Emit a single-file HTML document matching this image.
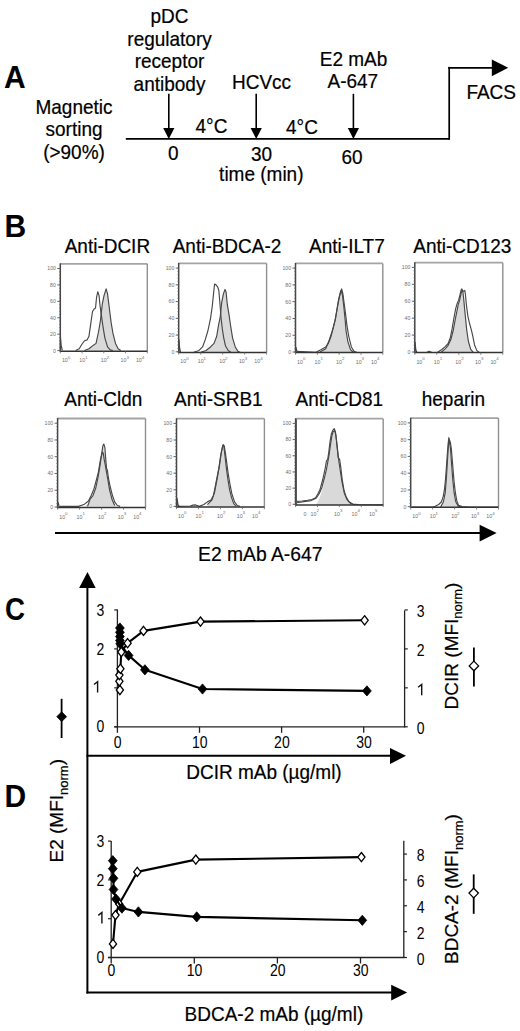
<!DOCTYPE html>
<html><head><meta charset="utf-8"><style>
html,body{margin:0;padding:0;background:#fff;}
body{width:520px;height:1031px;overflow:hidden;}
svg{display:block;font-family:"Liberation Sans", sans-serif;}
</style></head><body>
<svg width="520" height="1031" viewBox="0 0 520 1031">
<rect x="0" y="0" width="520" height="1031" fill="#fff"/>
<text transform="translate(4.00,88.00) scale(1,1.03)" font-size="30" text-anchor="start" font-weight="bold" fill="#000">A</text>
<text transform="translate(169.50,23.00) scale(1,1.03)" font-size="19" text-anchor="middle" font-weight="normal" fill="#000" stroke="#000" stroke-width="0.2">pDC</text>
<text transform="translate(169.50,45.60) scale(1,1.03)" font-size="19" text-anchor="middle" font-weight="normal" fill="#000" stroke="#000" stroke-width="0.2">regulatory</text>
<text transform="translate(169.50,68.20) scale(1,1.03)" font-size="19" text-anchor="middle" font-weight="normal" fill="#000" stroke="#000" stroke-width="0.2">receptor</text>
<text transform="translate(169.50,90.80) scale(1,1.03)" font-size="19" text-anchor="middle" font-weight="normal" fill="#000" stroke="#000" stroke-width="0.2">antibody</text>
<text transform="translate(74.00,113.80) scale(1,1.03)" font-size="19" text-anchor="middle" font-weight="normal" fill="#000" stroke="#000" stroke-width="0.2">Magnetic</text>
<text transform="translate(74.00,136.10) scale(1,1.03)" font-size="19" text-anchor="middle" font-weight="normal" fill="#000" stroke="#000" stroke-width="0.2">sorting</text>
<text transform="translate(74.00,159.40) scale(1,1.03)" font-size="19" text-anchor="middle" font-weight="normal" fill="#000" stroke="#000" stroke-width="0.2">(&gt;90%)</text>
<text transform="translate(261.50,88.60) scale(1,1.03)" font-size="19" text-anchor="middle" font-weight="normal" fill="#000" stroke="#000" stroke-width="0.2">HCVcc</text>
<text transform="translate(353.50,65.60) scale(1,1.03)" font-size="19" text-anchor="middle" font-weight="normal" fill="#000" stroke="#000" stroke-width="0.2">E2 mAb</text>
<text transform="translate(352.80,88.30) scale(1,1.03)" font-size="19" text-anchor="middle" font-weight="normal" fill="#000" stroke="#000" stroke-width="0.2">A-647</text>
<text transform="translate(211.50,133.20) scale(1,1.03)" font-size="19" text-anchor="middle" font-weight="normal" fill="#000" stroke="#000" stroke-width="0.2">4°C</text>
<text transform="translate(302.00,133.80) scale(1,1.03)" font-size="19" text-anchor="middle" font-weight="normal" fill="#000" stroke="#000" stroke-width="0.2">4°C</text>
<text transform="translate(173.20,160.40) scale(1,1.03)" font-size="19" text-anchor="middle" font-weight="normal" fill="#000" stroke="#000" stroke-width="0.2">0</text>
<text transform="translate(261.60,161.00) scale(1,1.03)" font-size="19" text-anchor="middle" font-weight="normal" fill="#000" stroke="#000" stroke-width="0.2">30</text>
<text transform="translate(352.10,163.90) scale(1,1.03)" font-size="19" text-anchor="middle" font-weight="normal" fill="#000" stroke="#000" stroke-width="0.2">60</text>
<text transform="translate(261.30,181.40) scale(1,1.03)" font-size="19" text-anchor="middle" font-weight="normal" fill="#000" stroke="#000" stroke-width="0.2">time (min)</text>
<text transform="translate(491.20,98.80) scale(1,1.03)" font-size="19" text-anchor="middle" font-weight="normal" fill="#000" stroke="#000" stroke-width="0.2">FACS</text>
<line x1="125.80" y1="138.90" x2="449.60" y2="138.90" stroke="#000" stroke-width="1.9"/>
<line x1="168.80" y1="93.80" x2="168.80" y2="129.00" stroke="#000" stroke-width="1.6"/>
<polygon points="163.20,127.90 174.40,127.90 168.80,138.90" fill="#000" stroke="none" stroke-width="0"/>
<line x1="256.20" y1="93.80" x2="256.20" y2="129.00" stroke="#000" stroke-width="1.6"/>
<polygon points="250.60,127.90 261.80,127.90 256.20,138.90" fill="#000" stroke="none" stroke-width="0"/>
<line x1="353.40" y1="93.80" x2="353.40" y2="129.00" stroke="#000" stroke-width="1.6"/>
<polygon points="347.80,127.90 359.00,127.90 353.40,138.90" fill="#000" stroke="none" stroke-width="0"/>
<line x1="449.20" y1="139.80" x2="449.20" y2="66.90" stroke="#000" stroke-width="1.7"/>
<line x1="448.20" y1="67.80" x2="493.00" y2="67.80" stroke="#000" stroke-width="1.7"/>
<polygon points="491.80,59.60 508.20,67.80 491.80,76.20" fill="#000" stroke="none" stroke-width="0"/>
<text transform="translate(4.50,236.90) scale(1,1.03)" font-size="30" text-anchor="start" font-weight="bold" fill="#000">B</text>
<text transform="translate(107.40,253.00) scale(1,1.03)" font-size="19" text-anchor="middle" font-weight="normal" fill="#000" stroke="#000" stroke-width="0.2">Anti-DCIR</text>
<text transform="translate(227.00,253.00) scale(1,1.03)" font-size="19" text-anchor="middle" font-weight="normal" fill="#000" stroke="#000" stroke-width="0.2">Anti-BDCA-2</text>
<text transform="translate(346.90,253.00) scale(1,1.03)" font-size="19" text-anchor="middle" font-weight="normal" fill="#000" stroke="#000" stroke-width="0.2">Anti-ILT7</text>
<text transform="translate(462.30,253.00) scale(1,1.03)" font-size="19" text-anchor="middle" font-weight="normal" fill="#000" stroke="#000" stroke-width="0.2">Anti-CD123</text>
<text transform="translate(103.30,405.80) scale(1,1.03)" font-size="19" text-anchor="middle" font-weight="normal" fill="#000" stroke="#000" stroke-width="0.2">Anti-Cldn</text>
<text transform="translate(218.30,405.80) scale(1,1.03)" font-size="19" text-anchor="middle" font-weight="normal" fill="#000" stroke="#000" stroke-width="0.2">Anti-SRB1</text>
<text transform="translate(339.40,405.80) scale(1,1.03)" font-size="19" text-anchor="middle" font-weight="normal" fill="#000" stroke="#000" stroke-width="0.2">Anti-CD81</text>
<text transform="translate(453.40,405.80) scale(1,1.03)" font-size="19" text-anchor="middle" font-weight="normal" fill="#000" stroke="#000" stroke-width="0.2">heparin</text>
<g transform="translate(58,262) scale(0.17693)">
<path d="M150,500 L175,490 L200,470 L215,460 L230,390 L240,330 L250,240 L260,190 L272,152 L280,180 L290,260 L300,340 L310,400 L325,460 L340,490 L355,500 Z" fill="#d9d9d9" stroke="none"/>
<path d="M100,500 L120,490 L135,465 L150,445 L165,440 L175,420 L185,350 L195,280 L205,265 L212,260 L218,200 L225,168 L232,190 L238,250 L245,300 L255,370 L265,430 L280,480 L295,497 L310,500" fill="none" stroke="#474747" stroke-width="1.15" vector-effect="non-scaling-stroke" stroke-linejoin="round"/>
<path d="M150,500 L175,490 L200,470 L215,460 L230,390 L240,330 L250,240 L260,190 L272,152 L280,180 L290,260 L300,340 L310,400 L325,460 L340,490 L355,500" fill="none" stroke="#474747" stroke-width="1.15" vector-effect="non-scaling-stroke" stroke-linejoin="round"/>
<path d="M14,500 L14,425 L18,470 L24,500" fill="none" stroke="#474747" stroke-width="1.15" vector-effect="non-scaling-stroke" stroke-linejoin="round"/>
</g>
<line x1="60.30" y1="263.80" x2="147.30" y2="263.80" stroke="#a4a4a4" stroke-width="1.8"/>
<line x1="147.30" y1="263.80" x2="147.30" y2="351.20" stroke="#909090" stroke-width="1.4"/>
<line x1="60.30" y1="351.20" x2="147.30" y2="351.20" stroke="#333" stroke-width="1.5"/>
<line x1="60.30" y1="263.30" x2="60.30" y2="351.90" stroke="#444" stroke-width="1.5"/>
<line x1="57.30" y1="350.60" x2="60.30" y2="350.60" stroke="#555" stroke-width="0.9"/>
<text transform="translate(55.90,352.50) scale(1,1.0)" font-size="5.2" text-anchor="end" font-weight="normal" fill="#707070">0</text>
<line x1="57.30" y1="334.18" x2="60.30" y2="334.18" stroke="#555" stroke-width="0.9"/>
<text transform="translate(55.90,336.08) scale(1,1.0)" font-size="5.2" text-anchor="end" font-weight="normal" fill="#707070">20</text>
<line x1="57.30" y1="317.76" x2="60.30" y2="317.76" stroke="#555" stroke-width="0.9"/>
<text transform="translate(55.90,319.66) scale(1,1.0)" font-size="5.2" text-anchor="end" font-weight="normal" fill="#707070">40</text>
<line x1="57.30" y1="301.34" x2="60.30" y2="301.34" stroke="#555" stroke-width="0.9"/>
<text transform="translate(55.90,303.24) scale(1,1.0)" font-size="5.2" text-anchor="end" font-weight="normal" fill="#707070">60</text>
<line x1="57.30" y1="284.92" x2="60.30" y2="284.92" stroke="#555" stroke-width="0.9"/>
<text transform="translate(55.90,286.82) scale(1,1.0)" font-size="5.2" text-anchor="end" font-weight="normal" fill="#707070">80</text>
<line x1="57.30" y1="268.50" x2="60.30" y2="268.50" stroke="#555" stroke-width="0.9"/>
<text transform="translate(55.90,270.40) scale(1,1.0)" font-size="5.2" text-anchor="end" font-weight="normal" fill="#707070">100</text>
<line x1="59.00" y1="350.60" x2="60.30" y2="350.60" stroke="#666" stroke-width="0.7"/>
<line x1="59.00" y1="347.32" x2="60.30" y2="347.32" stroke="#666" stroke-width="0.7"/>
<line x1="59.00" y1="344.03" x2="60.30" y2="344.03" stroke="#666" stroke-width="0.7"/>
<line x1="59.00" y1="340.75" x2="60.30" y2="340.75" stroke="#666" stroke-width="0.7"/>
<line x1="59.00" y1="337.46" x2="60.30" y2="337.46" stroke="#666" stroke-width="0.7"/>
<line x1="59.00" y1="334.18" x2="60.30" y2="334.18" stroke="#666" stroke-width="0.7"/>
<line x1="59.00" y1="330.90" x2="60.30" y2="330.90" stroke="#666" stroke-width="0.7"/>
<line x1="59.00" y1="327.61" x2="60.30" y2="327.61" stroke="#666" stroke-width="0.7"/>
<line x1="59.00" y1="324.33" x2="60.30" y2="324.33" stroke="#666" stroke-width="0.7"/>
<line x1="59.00" y1="321.04" x2="60.30" y2="321.04" stroke="#666" stroke-width="0.7"/>
<line x1="59.00" y1="317.76" x2="60.30" y2="317.76" stroke="#666" stroke-width="0.7"/>
<line x1="59.00" y1="314.48" x2="60.30" y2="314.48" stroke="#666" stroke-width="0.7"/>
<line x1="59.00" y1="311.19" x2="60.30" y2="311.19" stroke="#666" stroke-width="0.7"/>
<line x1="59.00" y1="307.91" x2="60.30" y2="307.91" stroke="#666" stroke-width="0.7"/>
<line x1="59.00" y1="304.62" x2="60.30" y2="304.62" stroke="#666" stroke-width="0.7"/>
<line x1="59.00" y1="301.34" x2="60.30" y2="301.34" stroke="#666" stroke-width="0.7"/>
<line x1="59.00" y1="298.06" x2="60.30" y2="298.06" stroke="#666" stroke-width="0.7"/>
<line x1="59.00" y1="294.77" x2="60.30" y2="294.77" stroke="#666" stroke-width="0.7"/>
<line x1="59.00" y1="291.49" x2="60.30" y2="291.49" stroke="#666" stroke-width="0.7"/>
<line x1="59.00" y1="288.20" x2="60.30" y2="288.20" stroke="#666" stroke-width="0.7"/>
<line x1="59.00" y1="284.92" x2="60.30" y2="284.92" stroke="#666" stroke-width="0.7"/>
<line x1="59.00" y1="281.64" x2="60.30" y2="281.64" stroke="#666" stroke-width="0.7"/>
<line x1="59.00" y1="278.35" x2="60.30" y2="278.35" stroke="#666" stroke-width="0.7"/>
<line x1="59.00" y1="275.07" x2="60.30" y2="275.07" stroke="#666" stroke-width="0.7"/>
<line x1="59.00" y1="271.78" x2="60.30" y2="271.78" stroke="#666" stroke-width="0.7"/>
<line x1="59.00" y1="268.50" x2="60.30" y2="268.50" stroke="#666" stroke-width="0.7"/>
<text x="61.90" y="362.20" font-size="5.3" fill="#707070">10<tspan dy="-3.6" font-size="4.4">0</tspan></text>
<text x="79.30" y="362.20" font-size="5.3" fill="#707070">10<tspan dy="-3.6" font-size="4.4">1</tspan></text>
<text x="100.80" y="362.20" font-size="5.3" fill="#707070">10<tspan dy="-3.6" font-size="4.4">2</tspan></text>
<text x="120.50" y="362.20" font-size="5.3" fill="#707070">10<tspan dy="-3.6" font-size="4.4">3</tspan></text>
<text x="135.90" y="362.20" font-size="5.3" fill="#707070">10<tspan dy="-3.6" font-size="4.4">4</tspan></text>
<line x1="60.30" y1="351.20" x2="60.30" y2="353.40" stroke="#666" stroke-width="0.8"/>
<line x1="82.05" y1="351.20" x2="82.05" y2="353.40" stroke="#666" stroke-width="0.8"/>
<line x1="103.80" y1="351.20" x2="103.80" y2="353.40" stroke="#666" stroke-width="0.8"/>
<line x1="125.55" y1="351.20" x2="125.55" y2="353.40" stroke="#666" stroke-width="0.8"/>
<line x1="147.30" y1="351.20" x2="147.30" y2="353.40" stroke="#666" stroke-width="0.8"/>
<g transform="translate(176,262) scale(0.17693)">
<path d="M140,510 L170,500 L195,480 L215,460 L230,420 L240,360 L250,310 L258,230 L268,180 L277,155 L283,170 L290,240 L300,300 L310,370 L320,430 L335,480 L350,505 L365,512 Z" fill="#d9d9d9" stroke="none"/>
<path d="M100,510 L130,500 L150,480 L165,440 L180,390 L195,320 L205,250 L212,180 L218,125 L225,128 L235,140 L242,160 L248,230 L255,320 L262,380 L270,430 L280,475 L295,500 L310,510" fill="none" stroke="#474747" stroke-width="1.15" vector-effect="non-scaling-stroke" stroke-linejoin="round"/>
<path d="M140,510 L170,500 L195,480 L215,460 L230,420 L240,360 L250,310 L258,230 L268,180 L277,155 L283,170 L290,240 L300,300 L310,370 L320,430 L335,480 L350,505 L365,512" fill="none" stroke="#474747" stroke-width="1.15" vector-effect="non-scaling-stroke" stroke-linejoin="round"/>
<path d="M16,512 L17,440 L21,490 L27,512" fill="none" stroke="#474747" stroke-width="1.15" vector-effect="non-scaling-stroke" stroke-linejoin="round"/>
</g>
<line x1="178.70" y1="263.40" x2="266.60" y2="263.40" stroke="#a4a4a4" stroke-width="1.8"/>
<line x1="266.60" y1="263.40" x2="266.60" y2="352.40" stroke="#909090" stroke-width="1.4"/>
<line x1="178.70" y1="352.40" x2="266.60" y2="352.40" stroke="#333" stroke-width="1.5"/>
<line x1="178.70" y1="262.90" x2="178.70" y2="353.10" stroke="#444" stroke-width="1.5"/>
<line x1="175.70" y1="351.80" x2="178.70" y2="351.80" stroke="#555" stroke-width="0.9"/>
<text transform="translate(174.30,353.70) scale(1,1.0)" font-size="5.2" text-anchor="end" font-weight="normal" fill="#707070">0</text>
<line x1="175.70" y1="335.06" x2="178.70" y2="335.06" stroke="#555" stroke-width="0.9"/>
<text transform="translate(174.30,336.96) scale(1,1.0)" font-size="5.2" text-anchor="end" font-weight="normal" fill="#707070">20</text>
<line x1="175.70" y1="318.32" x2="178.70" y2="318.32" stroke="#555" stroke-width="0.9"/>
<text transform="translate(174.30,320.22) scale(1,1.0)" font-size="5.2" text-anchor="end" font-weight="normal" fill="#707070">40</text>
<line x1="175.70" y1="301.58" x2="178.70" y2="301.58" stroke="#555" stroke-width="0.9"/>
<text transform="translate(174.30,303.48) scale(1,1.0)" font-size="5.2" text-anchor="end" font-weight="normal" fill="#707070">60</text>
<line x1="175.70" y1="284.84" x2="178.70" y2="284.84" stroke="#555" stroke-width="0.9"/>
<text transform="translate(174.30,286.74) scale(1,1.0)" font-size="5.2" text-anchor="end" font-weight="normal" fill="#707070">80</text>
<line x1="175.70" y1="268.10" x2="178.70" y2="268.10" stroke="#555" stroke-width="0.9"/>
<text transform="translate(174.30,270.00) scale(1,1.0)" font-size="5.2" text-anchor="end" font-weight="normal" fill="#707070">100</text>
<line x1="177.40" y1="351.80" x2="178.70" y2="351.80" stroke="#666" stroke-width="0.7"/>
<line x1="177.40" y1="348.45" x2="178.70" y2="348.45" stroke="#666" stroke-width="0.7"/>
<line x1="177.40" y1="345.10" x2="178.70" y2="345.10" stroke="#666" stroke-width="0.7"/>
<line x1="177.40" y1="341.76" x2="178.70" y2="341.76" stroke="#666" stroke-width="0.7"/>
<line x1="177.40" y1="338.41" x2="178.70" y2="338.41" stroke="#666" stroke-width="0.7"/>
<line x1="177.40" y1="335.06" x2="178.70" y2="335.06" stroke="#666" stroke-width="0.7"/>
<line x1="177.40" y1="331.71" x2="178.70" y2="331.71" stroke="#666" stroke-width="0.7"/>
<line x1="177.40" y1="328.36" x2="178.70" y2="328.36" stroke="#666" stroke-width="0.7"/>
<line x1="177.40" y1="325.02" x2="178.70" y2="325.02" stroke="#666" stroke-width="0.7"/>
<line x1="177.40" y1="321.67" x2="178.70" y2="321.67" stroke="#666" stroke-width="0.7"/>
<line x1="177.40" y1="318.32" x2="178.70" y2="318.32" stroke="#666" stroke-width="0.7"/>
<line x1="177.40" y1="314.97" x2="178.70" y2="314.97" stroke="#666" stroke-width="0.7"/>
<line x1="177.40" y1="311.62" x2="178.70" y2="311.62" stroke="#666" stroke-width="0.7"/>
<line x1="177.40" y1="308.28" x2="178.70" y2="308.28" stroke="#666" stroke-width="0.7"/>
<line x1="177.40" y1="304.93" x2="178.70" y2="304.93" stroke="#666" stroke-width="0.7"/>
<line x1="177.40" y1="301.58" x2="178.70" y2="301.58" stroke="#666" stroke-width="0.7"/>
<line x1="177.40" y1="298.23" x2="178.70" y2="298.23" stroke="#666" stroke-width="0.7"/>
<line x1="177.40" y1="294.88" x2="178.70" y2="294.88" stroke="#666" stroke-width="0.7"/>
<line x1="177.40" y1="291.54" x2="178.70" y2="291.54" stroke="#666" stroke-width="0.7"/>
<line x1="177.40" y1="288.19" x2="178.70" y2="288.19" stroke="#666" stroke-width="0.7"/>
<line x1="177.40" y1="284.84" x2="178.70" y2="284.84" stroke="#666" stroke-width="0.7"/>
<line x1="177.40" y1="281.49" x2="178.70" y2="281.49" stroke="#666" stroke-width="0.7"/>
<line x1="177.40" y1="278.14" x2="178.70" y2="278.14" stroke="#666" stroke-width="0.7"/>
<line x1="177.40" y1="274.80" x2="178.70" y2="274.80" stroke="#666" stroke-width="0.7"/>
<line x1="177.40" y1="271.45" x2="178.70" y2="271.45" stroke="#666" stroke-width="0.7"/>
<line x1="177.40" y1="268.10" x2="178.70" y2="268.10" stroke="#666" stroke-width="0.7"/>
<text x="180.30" y="363.40" font-size="5.3" fill="#707070">10<tspan dy="-3.6" font-size="4.4">0</tspan></text>
<text x="197.70" y="363.40" font-size="5.3" fill="#707070">10<tspan dy="-3.6" font-size="4.4">1</tspan></text>
<text x="219.20" y="363.40" font-size="5.3" fill="#707070">10<tspan dy="-3.6" font-size="4.4">2</tspan></text>
<text x="238.90" y="363.40" font-size="5.3" fill="#707070">10<tspan dy="-3.6" font-size="4.4">3</tspan></text>
<text x="254.30" y="363.40" font-size="5.3" fill="#707070">10<tspan dy="-3.6" font-size="4.4">4</tspan></text>
<line x1="178.70" y1="352.40" x2="178.70" y2="354.60" stroke="#666" stroke-width="0.8"/>
<line x1="200.68" y1="352.40" x2="200.68" y2="354.60" stroke="#666" stroke-width="0.8"/>
<line x1="222.65" y1="352.40" x2="222.65" y2="354.60" stroke="#666" stroke-width="0.8"/>
<line x1="244.62" y1="352.40" x2="244.62" y2="354.60" stroke="#666" stroke-width="0.8"/>
<line x1="266.60" y1="352.40" x2="266.60" y2="354.60" stroke="#666" stroke-width="0.8"/>
<g transform="translate(293,262) scale(0.17693)">
<path d="M150,510 L185,490 L205,440 L225,380 L240,320 L252,250 L262,200 L272,160 L280,190 L288,260 L295,330 L300,390 L310,450 L325,495 L340,510 Z" fill="#d9d9d9" stroke="none"/>
<path d="M20,505 L130,510 L160,495 L185,480 L200,460 L215,420 L228,370 L238,330 L248,270 L258,210 L268,170 L275,152 L282,180 L290,240 L298,300 L305,360 L315,420 L330,480 L345,505 L360,510" fill="none" stroke="#474747" stroke-width="1.15" vector-effect="non-scaling-stroke" stroke-linejoin="round"/>
<path d="M150,510 L185,490 L205,440 L225,380 L240,320 L252,250 L262,200 L272,160 L280,190 L288,260 L295,330 L300,390 L310,450 L325,495 L340,510" fill="none" stroke="#474747" stroke-width="1.15" vector-effect="non-scaling-stroke" stroke-linejoin="round"/>
<path d="M16,512 L17,482 L22,505" fill="none" stroke="#474747" stroke-width="1.15" vector-effect="non-scaling-stroke" stroke-linejoin="round"/>
</g>
<line x1="295.50" y1="263.40" x2="382.80" y2="263.40" stroke="#a4a4a4" stroke-width="1.8"/>
<line x1="382.80" y1="263.40" x2="382.80" y2="352.60" stroke="#909090" stroke-width="1.4"/>
<line x1="295.50" y1="352.60" x2="382.80" y2="352.60" stroke="#333" stroke-width="1.5"/>
<line x1="295.50" y1="262.90" x2="295.50" y2="353.30" stroke="#444" stroke-width="1.5"/>
<line x1="292.50" y1="352.00" x2="295.50" y2="352.00" stroke="#555" stroke-width="0.9"/>
<text transform="translate(291.10,353.90) scale(1,1.0)" font-size="5.2" text-anchor="end" font-weight="normal" fill="#707070">0</text>
<line x1="292.50" y1="335.22" x2="295.50" y2="335.22" stroke="#555" stroke-width="0.9"/>
<text transform="translate(291.10,337.12) scale(1,1.0)" font-size="5.2" text-anchor="end" font-weight="normal" fill="#707070">20</text>
<line x1="292.50" y1="318.44" x2="295.50" y2="318.44" stroke="#555" stroke-width="0.9"/>
<text transform="translate(291.10,320.34) scale(1,1.0)" font-size="5.2" text-anchor="end" font-weight="normal" fill="#707070">40</text>
<line x1="292.50" y1="301.66" x2="295.50" y2="301.66" stroke="#555" stroke-width="0.9"/>
<text transform="translate(291.10,303.56) scale(1,1.0)" font-size="5.2" text-anchor="end" font-weight="normal" fill="#707070">60</text>
<line x1="292.50" y1="284.88" x2="295.50" y2="284.88" stroke="#555" stroke-width="0.9"/>
<text transform="translate(291.10,286.78) scale(1,1.0)" font-size="5.2" text-anchor="end" font-weight="normal" fill="#707070">80</text>
<line x1="292.50" y1="268.10" x2="295.50" y2="268.10" stroke="#555" stroke-width="0.9"/>
<text transform="translate(291.10,270.00) scale(1,1.0)" font-size="5.2" text-anchor="end" font-weight="normal" fill="#707070">100</text>
<line x1="294.20" y1="352.00" x2="295.50" y2="352.00" stroke="#666" stroke-width="0.7"/>
<line x1="294.20" y1="348.64" x2="295.50" y2="348.64" stroke="#666" stroke-width="0.7"/>
<line x1="294.20" y1="345.29" x2="295.50" y2="345.29" stroke="#666" stroke-width="0.7"/>
<line x1="294.20" y1="341.93" x2="295.50" y2="341.93" stroke="#666" stroke-width="0.7"/>
<line x1="294.20" y1="338.58" x2="295.50" y2="338.58" stroke="#666" stroke-width="0.7"/>
<line x1="294.20" y1="335.22" x2="295.50" y2="335.22" stroke="#666" stroke-width="0.7"/>
<line x1="294.20" y1="331.86" x2="295.50" y2="331.86" stroke="#666" stroke-width="0.7"/>
<line x1="294.20" y1="328.51" x2="295.50" y2="328.51" stroke="#666" stroke-width="0.7"/>
<line x1="294.20" y1="325.15" x2="295.50" y2="325.15" stroke="#666" stroke-width="0.7"/>
<line x1="294.20" y1="321.80" x2="295.50" y2="321.80" stroke="#666" stroke-width="0.7"/>
<line x1="294.20" y1="318.44" x2="295.50" y2="318.44" stroke="#666" stroke-width="0.7"/>
<line x1="294.20" y1="315.08" x2="295.50" y2="315.08" stroke="#666" stroke-width="0.7"/>
<line x1="294.20" y1="311.73" x2="295.50" y2="311.73" stroke="#666" stroke-width="0.7"/>
<line x1="294.20" y1="308.37" x2="295.50" y2="308.37" stroke="#666" stroke-width="0.7"/>
<line x1="294.20" y1="305.02" x2="295.50" y2="305.02" stroke="#666" stroke-width="0.7"/>
<line x1="294.20" y1="301.66" x2="295.50" y2="301.66" stroke="#666" stroke-width="0.7"/>
<line x1="294.20" y1="298.30" x2="295.50" y2="298.30" stroke="#666" stroke-width="0.7"/>
<line x1="294.20" y1="294.95" x2="295.50" y2="294.95" stroke="#666" stroke-width="0.7"/>
<line x1="294.20" y1="291.59" x2="295.50" y2="291.59" stroke="#666" stroke-width="0.7"/>
<line x1="294.20" y1="288.24" x2="295.50" y2="288.24" stroke="#666" stroke-width="0.7"/>
<line x1="294.20" y1="284.88" x2="295.50" y2="284.88" stroke="#666" stroke-width="0.7"/>
<line x1="294.20" y1="281.52" x2="295.50" y2="281.52" stroke="#666" stroke-width="0.7"/>
<line x1="294.20" y1="278.17" x2="295.50" y2="278.17" stroke="#666" stroke-width="0.7"/>
<line x1="294.20" y1="274.81" x2="295.50" y2="274.81" stroke="#666" stroke-width="0.7"/>
<line x1="294.20" y1="271.46" x2="295.50" y2="271.46" stroke="#666" stroke-width="0.7"/>
<line x1="294.20" y1="268.10" x2="295.50" y2="268.10" stroke="#666" stroke-width="0.7"/>
<text x="297.10" y="363.60" font-size="5.3" fill="#707070">10<tspan dy="-3.6" font-size="4.4">0</tspan></text>
<text x="314.50" y="363.60" font-size="5.3" fill="#707070">10<tspan dy="-3.6" font-size="4.4">1</tspan></text>
<text x="336.00" y="363.60" font-size="5.3" fill="#707070">10<tspan dy="-3.6" font-size="4.4">2</tspan></text>
<text x="355.70" y="363.60" font-size="5.3" fill="#707070">10<tspan dy="-3.6" font-size="4.4">3</tspan></text>
<text x="371.10" y="363.60" font-size="5.3" fill="#707070">10<tspan dy="-3.6" font-size="4.4">4</tspan></text>
<line x1="295.50" y1="352.60" x2="295.50" y2="354.80" stroke="#666" stroke-width="0.8"/>
<line x1="317.32" y1="352.60" x2="317.32" y2="354.80" stroke="#666" stroke-width="0.8"/>
<line x1="339.15" y1="352.60" x2="339.15" y2="354.80" stroke="#666" stroke-width="0.8"/>
<line x1="360.98" y1="352.60" x2="360.98" y2="354.80" stroke="#666" stroke-width="0.8"/>
<line x1="382.80" y1="352.60" x2="382.80" y2="354.80" stroke="#666" stroke-width="0.8"/>
<g transform="translate(412,260) scale(0.18077)">
<path d="M165,512 L185,490 L200,472 L215,440 L228,390 L238,335 L248,285 L256,245 L263,225 L270,192 L276,168 L281,172 L286,215 L291,270 L297,330 L303,390 L312,450 L325,495 L340,512 Z" fill="#d9d9d9" stroke="none"/>
<path d="M140,512 L165,495 L185,478 L200,462 L212,430 L222,380 L232,320 L242,268 L250,240 L258,222 L265,195 L272,165 L276,160 L281,172 L286,215 L291,270 L297,330 L303,390 L312,450 L325,495 L340,512" fill="none" stroke="#474747" stroke-width="1.15" vector-effect="non-scaling-stroke" stroke-linejoin="round"/>
<path d="M160,512 L185,490 L200,472 L215,440 L228,390 L238,335 L248,285 L256,245 L263,225 L270,192 L276,168 L281,172 L287,172 L292,168 L296,195 L301,250 L309,310 L318,350 L328,385 L336,420 L346,470 L358,500 L372,512" fill="none" stroke="#474747" stroke-width="1.15" vector-effect="non-scaling-stroke" stroke-linejoin="round"/>
<path d="M16,512 L17,455 L21,495 L27,512 M80,512 L95,505 L110,512" fill="none" stroke="#474747" stroke-width="1.15" vector-effect="non-scaling-stroke" stroke-linejoin="round"/>
</g>
<line x1="414.80" y1="262.70" x2="502.80" y2="262.70" stroke="#a4a4a4" stroke-width="1.8"/>
<line x1="502.80" y1="262.70" x2="502.80" y2="352.60" stroke="#909090" stroke-width="1.4"/>
<line x1="414.80" y1="352.60" x2="502.80" y2="352.60" stroke="#333" stroke-width="1.5"/>
<line x1="414.80" y1="262.20" x2="414.80" y2="353.30" stroke="#444" stroke-width="1.5"/>
<line x1="411.80" y1="352.00" x2="414.80" y2="352.00" stroke="#555" stroke-width="0.9"/>
<text transform="translate(410.40,353.90) scale(1,1.0)" font-size="5.2" text-anchor="end" font-weight="normal" fill="#707070">0</text>
<line x1="411.80" y1="335.08" x2="414.80" y2="335.08" stroke="#555" stroke-width="0.9"/>
<text transform="translate(410.40,336.98) scale(1,1.0)" font-size="5.2" text-anchor="end" font-weight="normal" fill="#707070">20</text>
<line x1="411.80" y1="318.16" x2="414.80" y2="318.16" stroke="#555" stroke-width="0.9"/>
<text transform="translate(410.40,320.06) scale(1,1.0)" font-size="5.2" text-anchor="end" font-weight="normal" fill="#707070">40</text>
<line x1="411.80" y1="301.24" x2="414.80" y2="301.24" stroke="#555" stroke-width="0.9"/>
<text transform="translate(410.40,303.14) scale(1,1.0)" font-size="5.2" text-anchor="end" font-weight="normal" fill="#707070">60</text>
<line x1="411.80" y1="284.32" x2="414.80" y2="284.32" stroke="#555" stroke-width="0.9"/>
<text transform="translate(410.40,286.22) scale(1,1.0)" font-size="5.2" text-anchor="end" font-weight="normal" fill="#707070">80</text>
<line x1="411.80" y1="267.40" x2="414.80" y2="267.40" stroke="#555" stroke-width="0.9"/>
<text transform="translate(410.40,269.30) scale(1,1.0)" font-size="5.2" text-anchor="end" font-weight="normal" fill="#707070">100</text>
<line x1="413.50" y1="352.00" x2="414.80" y2="352.00" stroke="#666" stroke-width="0.7"/>
<line x1="413.50" y1="348.62" x2="414.80" y2="348.62" stroke="#666" stroke-width="0.7"/>
<line x1="413.50" y1="345.23" x2="414.80" y2="345.23" stroke="#666" stroke-width="0.7"/>
<line x1="413.50" y1="341.85" x2="414.80" y2="341.85" stroke="#666" stroke-width="0.7"/>
<line x1="413.50" y1="338.46" x2="414.80" y2="338.46" stroke="#666" stroke-width="0.7"/>
<line x1="413.50" y1="335.08" x2="414.80" y2="335.08" stroke="#666" stroke-width="0.7"/>
<line x1="413.50" y1="331.70" x2="414.80" y2="331.70" stroke="#666" stroke-width="0.7"/>
<line x1="413.50" y1="328.31" x2="414.80" y2="328.31" stroke="#666" stroke-width="0.7"/>
<line x1="413.50" y1="324.93" x2="414.80" y2="324.93" stroke="#666" stroke-width="0.7"/>
<line x1="413.50" y1="321.54" x2="414.80" y2="321.54" stroke="#666" stroke-width="0.7"/>
<line x1="413.50" y1="318.16" x2="414.80" y2="318.16" stroke="#666" stroke-width="0.7"/>
<line x1="413.50" y1="314.78" x2="414.80" y2="314.78" stroke="#666" stroke-width="0.7"/>
<line x1="413.50" y1="311.39" x2="414.80" y2="311.39" stroke="#666" stroke-width="0.7"/>
<line x1="413.50" y1="308.01" x2="414.80" y2="308.01" stroke="#666" stroke-width="0.7"/>
<line x1="413.50" y1="304.62" x2="414.80" y2="304.62" stroke="#666" stroke-width="0.7"/>
<line x1="413.50" y1="301.24" x2="414.80" y2="301.24" stroke="#666" stroke-width="0.7"/>
<line x1="413.50" y1="297.86" x2="414.80" y2="297.86" stroke="#666" stroke-width="0.7"/>
<line x1="413.50" y1="294.47" x2="414.80" y2="294.47" stroke="#666" stroke-width="0.7"/>
<line x1="413.50" y1="291.09" x2="414.80" y2="291.09" stroke="#666" stroke-width="0.7"/>
<line x1="413.50" y1="287.70" x2="414.80" y2="287.70" stroke="#666" stroke-width="0.7"/>
<line x1="413.50" y1="284.32" x2="414.80" y2="284.32" stroke="#666" stroke-width="0.7"/>
<line x1="413.50" y1="280.94" x2="414.80" y2="280.94" stroke="#666" stroke-width="0.7"/>
<line x1="413.50" y1="277.55" x2="414.80" y2="277.55" stroke="#666" stroke-width="0.7"/>
<line x1="413.50" y1="274.17" x2="414.80" y2="274.17" stroke="#666" stroke-width="0.7"/>
<line x1="413.50" y1="270.78" x2="414.80" y2="270.78" stroke="#666" stroke-width="0.7"/>
<line x1="413.50" y1="267.40" x2="414.80" y2="267.40" stroke="#666" stroke-width="0.7"/>
<text x="416.40" y="363.60" font-size="5.3" fill="#707070">10<tspan dy="-3.6" font-size="4.4">0</tspan></text>
<text x="433.80" y="363.60" font-size="5.3" fill="#707070">10<tspan dy="-3.6" font-size="4.4">1</tspan></text>
<text x="455.30" y="363.60" font-size="5.3" fill="#707070">10<tspan dy="-3.6" font-size="4.4">2</tspan></text>
<text x="475.00" y="363.60" font-size="5.3" fill="#707070">10<tspan dy="-3.6" font-size="4.4">3</tspan></text>
<text x="490.40" y="363.60" font-size="5.3" fill="#707070">10<tspan dy="-3.6" font-size="4.4">4</tspan></text>
<line x1="414.80" y1="352.60" x2="414.80" y2="354.80" stroke="#666" stroke-width="0.8"/>
<line x1="436.80" y1="352.60" x2="436.80" y2="354.80" stroke="#666" stroke-width="0.8"/>
<line x1="458.80" y1="352.60" x2="458.80" y2="354.80" stroke="#666" stroke-width="0.8"/>
<line x1="480.80" y1="352.60" x2="480.80" y2="354.80" stroke="#666" stroke-width="0.8"/>
<line x1="502.80" y1="352.60" x2="502.80" y2="354.80" stroke="#666" stroke-width="0.8"/>
<g transform="translate(55,416) scale(0.18077)">
<path d="M165,500 L190,480 L210,445 L225,400 L238,340 L248,280 L258,220 L266,175 L272,170 L280,230 L290,300 L300,370 L312,430 L325,480 L340,500 Z" fill="#d9d9d9" stroke="none"/>
<path d="M20,500 L130,500 L160,490 L185,470 L200,440 L215,405 L230,350 L240,310 L250,250 L258,210 L265,165 L270,155 L276,175 L280,230 L285,290 L290,300 L295,340 L305,390 L318,440 L330,475 L345,495 L360,500" fill="none" stroke="#474747" stroke-width="1.15" vector-effect="non-scaling-stroke" stroke-linejoin="round"/>
<path d="M180,500 L195,460 L210,440 L225,400 L238,340 L248,280 L255,230 L262,200 L267,205 L272,240 L278,270 L283,300 L292,350 L302,410 L315,460 L330,495" fill="none" stroke="#474747" stroke-width="1.15" vector-effect="non-scaling-stroke" stroke-linejoin="round"/>
<path d="M16,500 L17,478 L22,495" fill="none" stroke="#474747" stroke-width="1.15" vector-effect="non-scaling-stroke" stroke-linejoin="round"/>
</g>
<line x1="57.60" y1="418.50" x2="145.50" y2="418.50" stroke="#a4a4a4" stroke-width="1.8"/>
<line x1="145.50" y1="418.50" x2="145.50" y2="507.60" stroke="#909090" stroke-width="1.4"/>
<line x1="57.60" y1="507.60" x2="145.50" y2="507.60" stroke="#333" stroke-width="1.5"/>
<line x1="57.60" y1="418.00" x2="57.60" y2="508.30" stroke="#444" stroke-width="1.5"/>
<line x1="54.60" y1="507.00" x2="57.60" y2="507.00" stroke="#555" stroke-width="0.9"/>
<text transform="translate(53.20,508.90) scale(1,1.0)" font-size="5.2" text-anchor="end" font-weight="normal" fill="#707070">0</text>
<line x1="54.60" y1="490.24" x2="57.60" y2="490.24" stroke="#555" stroke-width="0.9"/>
<text transform="translate(53.20,492.14) scale(1,1.0)" font-size="5.2" text-anchor="end" font-weight="normal" fill="#707070">20</text>
<line x1="54.60" y1="473.48" x2="57.60" y2="473.48" stroke="#555" stroke-width="0.9"/>
<text transform="translate(53.20,475.38) scale(1,1.0)" font-size="5.2" text-anchor="end" font-weight="normal" fill="#707070">40</text>
<line x1="54.60" y1="456.72" x2="57.60" y2="456.72" stroke="#555" stroke-width="0.9"/>
<text transform="translate(53.20,458.62) scale(1,1.0)" font-size="5.2" text-anchor="end" font-weight="normal" fill="#707070">60</text>
<line x1="54.60" y1="439.96" x2="57.60" y2="439.96" stroke="#555" stroke-width="0.9"/>
<text transform="translate(53.20,441.86) scale(1,1.0)" font-size="5.2" text-anchor="end" font-weight="normal" fill="#707070">80</text>
<line x1="54.60" y1="423.20" x2="57.60" y2="423.20" stroke="#555" stroke-width="0.9"/>
<text transform="translate(53.20,425.10) scale(1,1.0)" font-size="5.2" text-anchor="end" font-weight="normal" fill="#707070">100</text>
<line x1="56.30" y1="507.00" x2="57.60" y2="507.00" stroke="#666" stroke-width="0.7"/>
<line x1="56.30" y1="503.65" x2="57.60" y2="503.65" stroke="#666" stroke-width="0.7"/>
<line x1="56.30" y1="500.30" x2="57.60" y2="500.30" stroke="#666" stroke-width="0.7"/>
<line x1="56.30" y1="496.94" x2="57.60" y2="496.94" stroke="#666" stroke-width="0.7"/>
<line x1="56.30" y1="493.59" x2="57.60" y2="493.59" stroke="#666" stroke-width="0.7"/>
<line x1="56.30" y1="490.24" x2="57.60" y2="490.24" stroke="#666" stroke-width="0.7"/>
<line x1="56.30" y1="486.89" x2="57.60" y2="486.89" stroke="#666" stroke-width="0.7"/>
<line x1="56.30" y1="483.54" x2="57.60" y2="483.54" stroke="#666" stroke-width="0.7"/>
<line x1="56.30" y1="480.18" x2="57.60" y2="480.18" stroke="#666" stroke-width="0.7"/>
<line x1="56.30" y1="476.83" x2="57.60" y2="476.83" stroke="#666" stroke-width="0.7"/>
<line x1="56.30" y1="473.48" x2="57.60" y2="473.48" stroke="#666" stroke-width="0.7"/>
<line x1="56.30" y1="470.13" x2="57.60" y2="470.13" stroke="#666" stroke-width="0.7"/>
<line x1="56.30" y1="466.78" x2="57.60" y2="466.78" stroke="#666" stroke-width="0.7"/>
<line x1="56.30" y1="463.42" x2="57.60" y2="463.42" stroke="#666" stroke-width="0.7"/>
<line x1="56.30" y1="460.07" x2="57.60" y2="460.07" stroke="#666" stroke-width="0.7"/>
<line x1="56.30" y1="456.72" x2="57.60" y2="456.72" stroke="#666" stroke-width="0.7"/>
<line x1="56.30" y1="453.37" x2="57.60" y2="453.37" stroke="#666" stroke-width="0.7"/>
<line x1="56.30" y1="450.02" x2="57.60" y2="450.02" stroke="#666" stroke-width="0.7"/>
<line x1="56.30" y1="446.66" x2="57.60" y2="446.66" stroke="#666" stroke-width="0.7"/>
<line x1="56.30" y1="443.31" x2="57.60" y2="443.31" stroke="#666" stroke-width="0.7"/>
<line x1="56.30" y1="439.96" x2="57.60" y2="439.96" stroke="#666" stroke-width="0.7"/>
<line x1="56.30" y1="436.61" x2="57.60" y2="436.61" stroke="#666" stroke-width="0.7"/>
<line x1="56.30" y1="433.26" x2="57.60" y2="433.26" stroke="#666" stroke-width="0.7"/>
<line x1="56.30" y1="429.90" x2="57.60" y2="429.90" stroke="#666" stroke-width="0.7"/>
<line x1="56.30" y1="426.55" x2="57.60" y2="426.55" stroke="#666" stroke-width="0.7"/>
<line x1="56.30" y1="423.20" x2="57.60" y2="423.20" stroke="#666" stroke-width="0.7"/>
<text x="59.20" y="518.60" font-size="5.3" fill="#707070">10<tspan dy="-3.6" font-size="4.4">0</tspan></text>
<text x="76.60" y="518.60" font-size="5.3" fill="#707070">10<tspan dy="-3.6" font-size="4.4">1</tspan></text>
<text x="98.10" y="518.60" font-size="5.3" fill="#707070">10<tspan dy="-3.6" font-size="4.4">2</tspan></text>
<text x="117.80" y="518.60" font-size="5.3" fill="#707070">10<tspan dy="-3.6" font-size="4.4">3</tspan></text>
<text x="133.20" y="518.60" font-size="5.3" fill="#707070">10<tspan dy="-3.6" font-size="4.4">4</tspan></text>
<line x1="57.60" y1="507.60" x2="57.60" y2="509.80" stroke="#666" stroke-width="0.8"/>
<line x1="79.58" y1="507.60" x2="79.58" y2="509.80" stroke="#666" stroke-width="0.8"/>
<line x1="101.55" y1="507.60" x2="101.55" y2="509.80" stroke="#666" stroke-width="0.8"/>
<line x1="123.53" y1="507.60" x2="123.53" y2="509.80" stroke="#666" stroke-width="0.8"/>
<line x1="145.50" y1="507.60" x2="145.50" y2="509.80" stroke="#666" stroke-width="0.8"/>
<g transform="translate(174,416) scale(0.18077)">
<path d="M180,500 L210,470 L225,420 L240,340 L255,260 L265,190 L272,165 L280,200 L290,280 L300,360 L312,430 L325,480 L340,500 Z" fill="#d9d9d9" stroke="none"/>
<path d="M20,500 L90,498 L105,493 L120,492 L140,500 L165,490 L185,475 L205,465 L218,440 L228,390 L238,340 L248,290 L258,220 L266,180 L272,158 L278,165 L285,210 L292,260 L300,320 L310,380 L320,430 L335,475 L350,495 L365,500" fill="none" stroke="#474747" stroke-width="1.15" vector-effect="non-scaling-stroke" stroke-linejoin="round"/>
<path d="M185,490 L210,465 L225,420 L240,340 L252,270 L262,200 L270,162 L276,170 L282,220 L290,290 L298,350 L308,410 L318,450 L330,485 L345,500" fill="none" stroke="#474747" stroke-width="1.15" vector-effect="non-scaling-stroke" stroke-linejoin="round"/>
<path d="M16,500 L17,455 L22,490 L28,500" fill="none" stroke="#474747" stroke-width="1.15" vector-effect="non-scaling-stroke" stroke-linejoin="round"/>
</g>
<line x1="176.50" y1="418.70" x2="264.40" y2="418.70" stroke="#a4a4a4" stroke-width="1.8"/>
<line x1="264.40" y1="418.70" x2="264.40" y2="507.00" stroke="#909090" stroke-width="1.4"/>
<line x1="176.50" y1="507.00" x2="264.40" y2="507.00" stroke="#333" stroke-width="1.5"/>
<line x1="176.50" y1="418.20" x2="176.50" y2="507.70" stroke="#444" stroke-width="1.5"/>
<line x1="173.50" y1="506.40" x2="176.50" y2="506.40" stroke="#555" stroke-width="0.9"/>
<text transform="translate(172.10,508.30) scale(1,1.0)" font-size="5.2" text-anchor="end" font-weight="normal" fill="#707070">0</text>
<line x1="173.50" y1="489.80" x2="176.50" y2="489.80" stroke="#555" stroke-width="0.9"/>
<text transform="translate(172.10,491.70) scale(1,1.0)" font-size="5.2" text-anchor="end" font-weight="normal" fill="#707070">20</text>
<line x1="173.50" y1="473.20" x2="176.50" y2="473.20" stroke="#555" stroke-width="0.9"/>
<text transform="translate(172.10,475.10) scale(1,1.0)" font-size="5.2" text-anchor="end" font-weight="normal" fill="#707070">40</text>
<line x1="173.50" y1="456.60" x2="176.50" y2="456.60" stroke="#555" stroke-width="0.9"/>
<text transform="translate(172.10,458.50) scale(1,1.0)" font-size="5.2" text-anchor="end" font-weight="normal" fill="#707070">60</text>
<line x1="173.50" y1="440.00" x2="176.50" y2="440.00" stroke="#555" stroke-width="0.9"/>
<text transform="translate(172.10,441.90) scale(1,1.0)" font-size="5.2" text-anchor="end" font-weight="normal" fill="#707070">80</text>
<line x1="173.50" y1="423.40" x2="176.50" y2="423.40" stroke="#555" stroke-width="0.9"/>
<text transform="translate(172.10,425.30) scale(1,1.0)" font-size="5.2" text-anchor="end" font-weight="normal" fill="#707070">100</text>
<line x1="175.20" y1="506.40" x2="176.50" y2="506.40" stroke="#666" stroke-width="0.7"/>
<line x1="175.20" y1="503.08" x2="176.50" y2="503.08" stroke="#666" stroke-width="0.7"/>
<line x1="175.20" y1="499.76" x2="176.50" y2="499.76" stroke="#666" stroke-width="0.7"/>
<line x1="175.20" y1="496.44" x2="176.50" y2="496.44" stroke="#666" stroke-width="0.7"/>
<line x1="175.20" y1="493.12" x2="176.50" y2="493.12" stroke="#666" stroke-width="0.7"/>
<line x1="175.20" y1="489.80" x2="176.50" y2="489.80" stroke="#666" stroke-width="0.7"/>
<line x1="175.20" y1="486.48" x2="176.50" y2="486.48" stroke="#666" stroke-width="0.7"/>
<line x1="175.20" y1="483.16" x2="176.50" y2="483.16" stroke="#666" stroke-width="0.7"/>
<line x1="175.20" y1="479.84" x2="176.50" y2="479.84" stroke="#666" stroke-width="0.7"/>
<line x1="175.20" y1="476.52" x2="176.50" y2="476.52" stroke="#666" stroke-width="0.7"/>
<line x1="175.20" y1="473.20" x2="176.50" y2="473.20" stroke="#666" stroke-width="0.7"/>
<line x1="175.20" y1="469.88" x2="176.50" y2="469.88" stroke="#666" stroke-width="0.7"/>
<line x1="175.20" y1="466.56" x2="176.50" y2="466.56" stroke="#666" stroke-width="0.7"/>
<line x1="175.20" y1="463.24" x2="176.50" y2="463.24" stroke="#666" stroke-width="0.7"/>
<line x1="175.20" y1="459.92" x2="176.50" y2="459.92" stroke="#666" stroke-width="0.7"/>
<line x1="175.20" y1="456.60" x2="176.50" y2="456.60" stroke="#666" stroke-width="0.7"/>
<line x1="175.20" y1="453.28" x2="176.50" y2="453.28" stroke="#666" stroke-width="0.7"/>
<line x1="175.20" y1="449.96" x2="176.50" y2="449.96" stroke="#666" stroke-width="0.7"/>
<line x1="175.20" y1="446.64" x2="176.50" y2="446.64" stroke="#666" stroke-width="0.7"/>
<line x1="175.20" y1="443.32" x2="176.50" y2="443.32" stroke="#666" stroke-width="0.7"/>
<line x1="175.20" y1="440.00" x2="176.50" y2="440.00" stroke="#666" stroke-width="0.7"/>
<line x1="175.20" y1="436.68" x2="176.50" y2="436.68" stroke="#666" stroke-width="0.7"/>
<line x1="175.20" y1="433.36" x2="176.50" y2="433.36" stroke="#666" stroke-width="0.7"/>
<line x1="175.20" y1="430.04" x2="176.50" y2="430.04" stroke="#666" stroke-width="0.7"/>
<line x1="175.20" y1="426.72" x2="176.50" y2="426.72" stroke="#666" stroke-width="0.7"/>
<line x1="175.20" y1="423.40" x2="176.50" y2="423.40" stroke="#666" stroke-width="0.7"/>
<text x="178.10" y="518.00" font-size="5.3" fill="#707070">10<tspan dy="-3.6" font-size="4.4">0</tspan></text>
<text x="195.50" y="518.00" font-size="5.3" fill="#707070">10<tspan dy="-3.6" font-size="4.4">1</tspan></text>
<text x="217.00" y="518.00" font-size="5.3" fill="#707070">10<tspan dy="-3.6" font-size="4.4">2</tspan></text>
<text x="236.70" y="518.00" font-size="5.3" fill="#707070">10<tspan dy="-3.6" font-size="4.4">3</tspan></text>
<text x="252.10" y="518.00" font-size="5.3" fill="#707070">10<tspan dy="-3.6" font-size="4.4">4</tspan></text>
<line x1="176.50" y1="507.00" x2="176.50" y2="509.20" stroke="#666" stroke-width="0.8"/>
<line x1="198.47" y1="507.00" x2="198.47" y2="509.20" stroke="#666" stroke-width="0.8"/>
<line x1="220.45" y1="507.00" x2="220.45" y2="509.20" stroke="#666" stroke-width="0.8"/>
<line x1="242.42" y1="507.00" x2="242.42" y2="509.20" stroke="#666" stroke-width="0.8"/>
<line x1="264.40" y1="507.00" x2="264.40" y2="509.20" stroke="#666" stroke-width="0.8"/>
<g transform="translate(293,416) scale(0.18077)">
<path d="M125,492 L135,478 L145,458 L155,430 L165,398 L176,350 L188,290 L198,225 L206,165 L213,120 L220,95 L228,88 L235,100 L242,150 L250,220 L258,290 L268,360 L280,420 L295,460 L315,485 L335,492 Z" fill="#d9d9d9" stroke="none"/>
<path d="M20,472 L50,470 L80,466 L105,462 L125,452 L138,430 L150,405 L165,350 L178,290 L185,250 L192,240 L198,200 L205,140 L212,100 L220,80 L228,70 L235,90 L240,130 L245,180 L250,230 L258,240 L265,290 L272,350 L282,410 L295,450 L310,475 L330,487 L360,490 L500,492" fill="none" stroke="#474747" stroke-width="1.15" vector-effect="non-scaling-stroke" stroke-linejoin="round"/>
<path d="M22,480 L60,474 L100,468 L128,455 L145,430 L160,395 L172,350 L185,295 L198,225 L208,155 L215,110 L222,88 L230,80 L237,105 L244,165 L253,245 L261,300 L271,365 L284,428 L299,463 L319,484 L345,492" fill="none" stroke="#474747" stroke-width="1.15" vector-effect="non-scaling-stroke" stroke-linejoin="round"/>
<path d="M18,492 L18,16" fill="none" stroke="#474747" stroke-width="1.15" vector-effect="non-scaling-stroke" stroke-linejoin="round"/>
</g>
<line x1="295.60" y1="418.70" x2="383.20" y2="418.70" stroke="#a4a4a4" stroke-width="1.8"/>
<line x1="383.20" y1="418.70" x2="383.20" y2="504.90" stroke="#909090" stroke-width="1.4"/>
<line x1="295.60" y1="504.90" x2="383.20" y2="504.90" stroke="#333" stroke-width="1.5"/>
<line x1="295.60" y1="418.20" x2="295.60" y2="505.60" stroke="#444" stroke-width="1.5"/>
<line x1="292.60" y1="504.30" x2="295.60" y2="504.30" stroke="#555" stroke-width="0.9"/>
<text transform="translate(291.20,506.20) scale(1,1.0)" font-size="5.2" text-anchor="end" font-weight="normal" fill="#707070">0</text>
<line x1="292.60" y1="488.12" x2="295.60" y2="488.12" stroke="#555" stroke-width="0.9"/>
<text transform="translate(291.20,490.02) scale(1,1.0)" font-size="5.2" text-anchor="end" font-weight="normal" fill="#707070">20</text>
<line x1="292.60" y1="471.94" x2="295.60" y2="471.94" stroke="#555" stroke-width="0.9"/>
<text transform="translate(291.20,473.84) scale(1,1.0)" font-size="5.2" text-anchor="end" font-weight="normal" fill="#707070">40</text>
<line x1="292.60" y1="455.76" x2="295.60" y2="455.76" stroke="#555" stroke-width="0.9"/>
<text transform="translate(291.20,457.66) scale(1,1.0)" font-size="5.2" text-anchor="end" font-weight="normal" fill="#707070">60</text>
<line x1="292.60" y1="439.58" x2="295.60" y2="439.58" stroke="#555" stroke-width="0.9"/>
<text transform="translate(291.20,441.48) scale(1,1.0)" font-size="5.2" text-anchor="end" font-weight="normal" fill="#707070">80</text>
<line x1="292.60" y1="423.40" x2="295.60" y2="423.40" stroke="#555" stroke-width="0.9"/>
<text transform="translate(291.20,425.30) scale(1,1.0)" font-size="5.2" text-anchor="end" font-weight="normal" fill="#707070">100</text>
<line x1="294.30" y1="504.30" x2="295.60" y2="504.30" stroke="#666" stroke-width="0.7"/>
<line x1="294.30" y1="501.06" x2="295.60" y2="501.06" stroke="#666" stroke-width="0.7"/>
<line x1="294.30" y1="497.83" x2="295.60" y2="497.83" stroke="#666" stroke-width="0.7"/>
<line x1="294.30" y1="494.59" x2="295.60" y2="494.59" stroke="#666" stroke-width="0.7"/>
<line x1="294.30" y1="491.36" x2="295.60" y2="491.36" stroke="#666" stroke-width="0.7"/>
<line x1="294.30" y1="488.12" x2="295.60" y2="488.12" stroke="#666" stroke-width="0.7"/>
<line x1="294.30" y1="484.88" x2="295.60" y2="484.88" stroke="#666" stroke-width="0.7"/>
<line x1="294.30" y1="481.65" x2="295.60" y2="481.65" stroke="#666" stroke-width="0.7"/>
<line x1="294.30" y1="478.41" x2="295.60" y2="478.41" stroke="#666" stroke-width="0.7"/>
<line x1="294.30" y1="475.18" x2="295.60" y2="475.18" stroke="#666" stroke-width="0.7"/>
<line x1="294.30" y1="471.94" x2="295.60" y2="471.94" stroke="#666" stroke-width="0.7"/>
<line x1="294.30" y1="468.70" x2="295.60" y2="468.70" stroke="#666" stroke-width="0.7"/>
<line x1="294.30" y1="465.47" x2="295.60" y2="465.47" stroke="#666" stroke-width="0.7"/>
<line x1="294.30" y1="462.23" x2="295.60" y2="462.23" stroke="#666" stroke-width="0.7"/>
<line x1="294.30" y1="459.00" x2="295.60" y2="459.00" stroke="#666" stroke-width="0.7"/>
<line x1="294.30" y1="455.76" x2="295.60" y2="455.76" stroke="#666" stroke-width="0.7"/>
<line x1="294.30" y1="452.52" x2="295.60" y2="452.52" stroke="#666" stroke-width="0.7"/>
<line x1="294.30" y1="449.29" x2="295.60" y2="449.29" stroke="#666" stroke-width="0.7"/>
<line x1="294.30" y1="446.05" x2="295.60" y2="446.05" stroke="#666" stroke-width="0.7"/>
<line x1="294.30" y1="442.82" x2="295.60" y2="442.82" stroke="#666" stroke-width="0.7"/>
<line x1="294.30" y1="439.58" x2="295.60" y2="439.58" stroke="#666" stroke-width="0.7"/>
<line x1="294.30" y1="436.34" x2="295.60" y2="436.34" stroke="#666" stroke-width="0.7"/>
<line x1="294.30" y1="433.11" x2="295.60" y2="433.11" stroke="#666" stroke-width="0.7"/>
<line x1="294.30" y1="429.87" x2="295.60" y2="429.87" stroke="#666" stroke-width="0.7"/>
<line x1="294.30" y1="426.64" x2="295.60" y2="426.64" stroke="#666" stroke-width="0.7"/>
<line x1="294.30" y1="423.40" x2="295.60" y2="423.40" stroke="#666" stroke-width="0.7"/>
<text transform="translate(303.60,515.90) scale(1,1.0)" font-size="5.3" text-anchor="start" font-weight="normal" fill="#707070">0</text>
<text x="310.60" y="515.90" font-size="5.3" fill="#707070">10<tspan dy="-3.6" font-size="4.4">2</tspan></text>
<text x="334.10" y="515.90" font-size="5.3" fill="#707070">10<tspan dy="-3.6" font-size="4.4">3</tspan></text>
<text x="351.60" y="515.90" font-size="5.3" fill="#707070">10<tspan dy="-3.6" font-size="4.4">4</tspan></text>
<text x="369.10" y="515.90" font-size="5.3" fill="#707070">10<tspan dy="-3.6" font-size="4.4">5</tspan></text>
<line x1="295.60" y1="504.90" x2="295.60" y2="507.10" stroke="#666" stroke-width="0.8"/>
<line x1="317.50" y1="504.90" x2="317.50" y2="507.10" stroke="#666" stroke-width="0.8"/>
<line x1="339.40" y1="504.90" x2="339.40" y2="507.10" stroke="#666" stroke-width="0.8"/>
<line x1="361.30" y1="504.90" x2="361.30" y2="507.10" stroke="#666" stroke-width="0.8"/>
<line x1="383.20" y1="504.90" x2="383.20" y2="507.10" stroke="#666" stroke-width="0.8"/>
<g transform="translate(408,416.8) scale(0.18077)">
<path d="M175,500 L195,470 L205,420 L212,330 L218,230 L224,150 L228,140 L234,180 L240,260 L246,340 L254,420 L262,470 L275,495 L290,500 Z" fill="#d9d9d9" stroke="none"/>
<path d="M20,500 L130,500 L150,495 L170,485 L185,470 L195,440 L202,400 L208,340 L213,270 L218,200 L222,150 L226,115 L230,130 L235,145 L240,180 L245,240 L250,300 L255,360 L262,420 L270,465 L280,490 L300,497 L340,500 L500,500" fill="none" stroke="#474747" stroke-width="1.15" vector-effect="non-scaling-stroke" stroke-linejoin="round"/>
<path d="M180,500 L196,470 L206,420 L213,330 L219,230 L225,140 L229,135 L235,175 L241,260 L247,340 L255,420 L264,470 L278,495 L292,500" fill="none" stroke="#474747" stroke-width="1.15" vector-effect="non-scaling-stroke" stroke-linejoin="round"/>
</g>
<line x1="410.70" y1="418.20" x2="498.50" y2="418.20" stroke="#a4a4a4" stroke-width="1.8"/>
<line x1="498.50" y1="418.20" x2="498.50" y2="507.30" stroke="#909090" stroke-width="1.4"/>
<line x1="410.70" y1="507.30" x2="498.50" y2="507.30" stroke="#333" stroke-width="1.5"/>
<line x1="410.70" y1="417.70" x2="410.70" y2="508.00" stroke="#444" stroke-width="1.5"/>
<line x1="407.70" y1="506.70" x2="410.70" y2="506.70" stroke="#555" stroke-width="0.9"/>
<text transform="translate(406.30,508.60) scale(1,1.0)" font-size="5.2" text-anchor="end" font-weight="normal" fill="#707070">0</text>
<line x1="407.70" y1="489.94" x2="410.70" y2="489.94" stroke="#555" stroke-width="0.9"/>
<text transform="translate(406.30,491.84) scale(1,1.0)" font-size="5.2" text-anchor="end" font-weight="normal" fill="#707070">20</text>
<line x1="407.70" y1="473.18" x2="410.70" y2="473.18" stroke="#555" stroke-width="0.9"/>
<text transform="translate(406.30,475.08) scale(1,1.0)" font-size="5.2" text-anchor="end" font-weight="normal" fill="#707070">40</text>
<line x1="407.70" y1="456.42" x2="410.70" y2="456.42" stroke="#555" stroke-width="0.9"/>
<text transform="translate(406.30,458.32) scale(1,1.0)" font-size="5.2" text-anchor="end" font-weight="normal" fill="#707070">60</text>
<line x1="407.70" y1="439.66" x2="410.70" y2="439.66" stroke="#555" stroke-width="0.9"/>
<text transform="translate(406.30,441.56) scale(1,1.0)" font-size="5.2" text-anchor="end" font-weight="normal" fill="#707070">80</text>
<line x1="407.70" y1="422.90" x2="410.70" y2="422.90" stroke="#555" stroke-width="0.9"/>
<text transform="translate(406.30,424.80) scale(1,1.0)" font-size="5.2" text-anchor="end" font-weight="normal" fill="#707070">100</text>
<line x1="409.40" y1="506.70" x2="410.70" y2="506.70" stroke="#666" stroke-width="0.7"/>
<line x1="409.40" y1="503.35" x2="410.70" y2="503.35" stroke="#666" stroke-width="0.7"/>
<line x1="409.40" y1="500.00" x2="410.70" y2="500.00" stroke="#666" stroke-width="0.7"/>
<line x1="409.40" y1="496.64" x2="410.70" y2="496.64" stroke="#666" stroke-width="0.7"/>
<line x1="409.40" y1="493.29" x2="410.70" y2="493.29" stroke="#666" stroke-width="0.7"/>
<line x1="409.40" y1="489.94" x2="410.70" y2="489.94" stroke="#666" stroke-width="0.7"/>
<line x1="409.40" y1="486.59" x2="410.70" y2="486.59" stroke="#666" stroke-width="0.7"/>
<line x1="409.40" y1="483.24" x2="410.70" y2="483.24" stroke="#666" stroke-width="0.7"/>
<line x1="409.40" y1="479.88" x2="410.70" y2="479.88" stroke="#666" stroke-width="0.7"/>
<line x1="409.40" y1="476.53" x2="410.70" y2="476.53" stroke="#666" stroke-width="0.7"/>
<line x1="409.40" y1="473.18" x2="410.70" y2="473.18" stroke="#666" stroke-width="0.7"/>
<line x1="409.40" y1="469.83" x2="410.70" y2="469.83" stroke="#666" stroke-width="0.7"/>
<line x1="409.40" y1="466.48" x2="410.70" y2="466.48" stroke="#666" stroke-width="0.7"/>
<line x1="409.40" y1="463.12" x2="410.70" y2="463.12" stroke="#666" stroke-width="0.7"/>
<line x1="409.40" y1="459.77" x2="410.70" y2="459.77" stroke="#666" stroke-width="0.7"/>
<line x1="409.40" y1="456.42" x2="410.70" y2="456.42" stroke="#666" stroke-width="0.7"/>
<line x1="409.40" y1="453.07" x2="410.70" y2="453.07" stroke="#666" stroke-width="0.7"/>
<line x1="409.40" y1="449.72" x2="410.70" y2="449.72" stroke="#666" stroke-width="0.7"/>
<line x1="409.40" y1="446.36" x2="410.70" y2="446.36" stroke="#666" stroke-width="0.7"/>
<line x1="409.40" y1="443.01" x2="410.70" y2="443.01" stroke="#666" stroke-width="0.7"/>
<line x1="409.40" y1="439.66" x2="410.70" y2="439.66" stroke="#666" stroke-width="0.7"/>
<line x1="409.40" y1="436.31" x2="410.70" y2="436.31" stroke="#666" stroke-width="0.7"/>
<line x1="409.40" y1="432.96" x2="410.70" y2="432.96" stroke="#666" stroke-width="0.7"/>
<line x1="409.40" y1="429.60" x2="410.70" y2="429.60" stroke="#666" stroke-width="0.7"/>
<line x1="409.40" y1="426.25" x2="410.70" y2="426.25" stroke="#666" stroke-width="0.7"/>
<line x1="409.40" y1="422.90" x2="410.70" y2="422.90" stroke="#666" stroke-width="0.7"/>
<text x="412.30" y="518.30" font-size="5.3" fill="#707070">10<tspan dy="-3.6" font-size="4.4">0</tspan></text>
<text x="429.70" y="518.30" font-size="5.3" fill="#707070">10<tspan dy="-3.6" font-size="4.4">1</tspan></text>
<text x="451.20" y="518.30" font-size="5.3" fill="#707070">10<tspan dy="-3.6" font-size="4.4">2</tspan></text>
<text x="470.90" y="518.30" font-size="5.3" fill="#707070">10<tspan dy="-3.6" font-size="4.4">3</tspan></text>
<text x="486.30" y="518.30" font-size="5.3" fill="#707070">10<tspan dy="-3.6" font-size="4.4">4</tspan></text>
<line x1="410.70" y1="507.30" x2="410.70" y2="509.50" stroke="#666" stroke-width="0.8"/>
<line x1="432.65" y1="507.30" x2="432.65" y2="509.50" stroke="#666" stroke-width="0.8"/>
<line x1="454.60" y1="507.30" x2="454.60" y2="509.50" stroke="#666" stroke-width="0.8"/>
<line x1="476.55" y1="507.30" x2="476.55" y2="509.50" stroke="#666" stroke-width="0.8"/>
<line x1="498.50" y1="507.30" x2="498.50" y2="509.50" stroke="#666" stroke-width="0.8"/>
<line x1="55.00" y1="532.90" x2="481.00" y2="532.90" stroke="#000" stroke-width="2"/>
<polygon points="479.60,524.70 496.60,533.00 479.60,541.40" fill="#000" stroke="none" stroke-width="0"/>
<text transform="translate(260.20,560.80) scale(1,1.03)" font-size="19.3" text-anchor="middle" font-weight="normal" fill="#000" stroke="#000" stroke-width="0.2">E2 mAb A-647</text>
<text transform="translate(4.90,620.30) scale(1,1.03)" font-size="30" text-anchor="start" font-weight="bold" fill="#000" textLength="20" lengthAdjust="spacingAndGlyphs">C</text>
<text transform="translate(4.50,807.00) scale(1,1.03)" font-size="30" text-anchor="start" font-weight="bold" fill="#000">D</text>
<line x1="87.40" y1="586.00" x2="87.40" y2="993.60" stroke="#000" stroke-width="2"/>
<polygon points="79.10,588.00 87.50,572.00 95.70,588.00" fill="#000" stroke="none" stroke-width="0"/>
<line x1="86.40" y1="755.70" x2="391.00" y2="755.70" stroke="#000" stroke-width="2"/>
<polygon points="390.00,747.90 406.00,755.80 390.00,764.10" fill="#000" stroke="none" stroke-width="0"/>
<line x1="86.40" y1="992.60" x2="392.00" y2="992.60" stroke="#000" stroke-width="2"/>
<polygon points="391.20,984.70 407.20,992.60 391.20,1000.50" fill="#000" stroke="none" stroke-width="0"/>
<line x1="117.40" y1="609.40" x2="117.40" y2="727.40" stroke="#222" stroke-width="1.3"/>
<line x1="114.20" y1="726.80" x2="405.20" y2="726.80" stroke="#222" stroke-width="1.3"/>
<line x1="404.60" y1="610.40" x2="404.60" y2="727.40" stroke="#222" stroke-width="1.3"/>
<line x1="114.20" y1="726.80" x2="117.40" y2="726.80" stroke="#222" stroke-width="1.2"/>
<text transform="translate(104.30,732.40) scale(1,1.16)" font-size="14" text-anchor="end" font-weight="normal" fill="#000">0</text>
<line x1="114.20" y1="687.85" x2="117.40" y2="687.85" stroke="#222" stroke-width="1.2"/>
<path d="M97.60,692.55 V681.65 L94.00,684.55" fill="none" stroke="#111" stroke-width="1.4" stroke-linejoin="miter"/>
<line x1="114.20" y1="648.90" x2="117.40" y2="648.90" stroke="#222" stroke-width="1.2"/>
<text transform="translate(104.30,654.50) scale(1,1.16)" font-size="14" text-anchor="end" font-weight="normal" fill="#000">2</text>
<line x1="114.20" y1="609.95" x2="117.40" y2="609.95" stroke="#222" stroke-width="1.2"/>
<text transform="translate(104.30,615.55) scale(1,1.16)" font-size="14" text-anchor="end" font-weight="normal" fill="#000">3</text>
<line x1="404.60" y1="726.80" x2="407.80" y2="726.80" stroke="#222" stroke-width="1.2"/>
<text transform="translate(416.80,734.20) scale(1,1.16)" font-size="14" text-anchor="start" font-weight="normal" fill="#000">0</text>
<line x1="404.60" y1="687.85" x2="407.80" y2="687.85" stroke="#222" stroke-width="1.2"/>
<path d="M421.70,695.25 V684.35 L418.10,687.25" fill="none" stroke="#111" stroke-width="1.4" stroke-linejoin="miter"/>
<line x1="404.60" y1="648.90" x2="407.80" y2="648.90" stroke="#222" stroke-width="1.2"/>
<text transform="translate(416.80,656.30) scale(1,1.16)" font-size="14" text-anchor="start" font-weight="normal" fill="#000">2</text>
<line x1="404.60" y1="609.95" x2="407.80" y2="609.95" stroke="#222" stroke-width="1.2"/>
<text transform="translate(416.80,617.35) scale(1,1.16)" font-size="14" text-anchor="start" font-weight="normal" fill="#000">3</text>
<line x1="117.40" y1="726.80" x2="117.40" y2="732.80" stroke="#222" stroke-width="1.3"/>
<text transform="translate(117.70,748.00) scale(1,1.14)" font-size="14" text-anchor="middle" font-weight="normal" fill="#000">0</text>
<line x1="199.50" y1="726.80" x2="199.50" y2="732.80" stroke="#222" stroke-width="1.3"/>
<text transform="translate(199.80,748.00) scale(1,1.14)" font-size="14" text-anchor="middle" font-weight="normal" fill="#000">10</text>
<line x1="281.60" y1="726.80" x2="281.60" y2="732.80" stroke="#222" stroke-width="1.3"/>
<text transform="translate(281.90,748.00) scale(1,1.14)" font-size="14" text-anchor="middle" font-weight="normal" fill="#000">20</text>
<line x1="363.70" y1="726.80" x2="363.70" y2="732.80" stroke="#222" stroke-width="1.3"/>
<text transform="translate(364.00,748.00) scale(1,1.14)" font-size="14" text-anchor="middle" font-weight="normal" fill="#000">30</text>
<line x1="111.20" y1="840.90" x2="111.20" y2="958.10" stroke="#222" stroke-width="1.3"/>
<line x1="108.00" y1="957.50" x2="404.40" y2="957.50" stroke="#222" stroke-width="1.3"/>
<line x1="403.80" y1="840.80" x2="403.80" y2="958.10" stroke="#222" stroke-width="1.3"/>
<line x1="108.00" y1="957.50" x2="111.20" y2="957.50" stroke="#222" stroke-width="1.2"/>
<text transform="translate(104.30,963.10) scale(1,1.16)" font-size="14" text-anchor="end" font-weight="normal" fill="#000">0</text>
<line x1="108.00" y1="918.70" x2="111.20" y2="918.70" stroke="#222" stroke-width="1.2"/>
<path d="M101.90,923.40 V912.50 L98.30,915.40" fill="none" stroke="#111" stroke-width="1.4" stroke-linejoin="miter"/>
<line x1="108.00" y1="879.90" x2="111.20" y2="879.90" stroke="#222" stroke-width="1.2"/>
<text transform="translate(104.30,885.50) scale(1,1.16)" font-size="14" text-anchor="end" font-weight="normal" fill="#000">2</text>
<line x1="108.00" y1="841.10" x2="111.20" y2="841.10" stroke="#222" stroke-width="1.2"/>
<text transform="translate(104.30,846.70) scale(1,1.16)" font-size="14" text-anchor="end" font-weight="normal" fill="#000">3</text>
<line x1="403.80" y1="957.50" x2="407.00" y2="957.50" stroke="#222" stroke-width="1.2"/>
<text transform="translate(416.80,964.90) scale(1,1.16)" font-size="14" text-anchor="start" font-weight="normal" fill="#000">0</text>
<line x1="403.80" y1="931.64" x2="407.00" y2="931.64" stroke="#222" stroke-width="1.2"/>
<text transform="translate(416.80,939.04) scale(1,1.16)" font-size="14" text-anchor="start" font-weight="normal" fill="#000">2</text>
<line x1="403.80" y1="905.78" x2="407.00" y2="905.78" stroke="#222" stroke-width="1.2"/>
<text transform="translate(416.80,913.18) scale(1,1.16)" font-size="14" text-anchor="start" font-weight="normal" fill="#000">4</text>
<line x1="403.80" y1="879.92" x2="407.00" y2="879.92" stroke="#222" stroke-width="1.2"/>
<text transform="translate(416.80,887.32) scale(1,1.16)" font-size="14" text-anchor="start" font-weight="normal" fill="#000">6</text>
<line x1="403.80" y1="854.06" x2="407.00" y2="854.06" stroke="#222" stroke-width="1.2"/>
<text transform="translate(416.80,861.46) scale(1,1.16)" font-size="14" text-anchor="start" font-weight="normal" fill="#000">8</text>
<line x1="111.20" y1="957.50" x2="111.20" y2="963.50" stroke="#222" stroke-width="1.3"/>
<text transform="translate(111.50,976.40) scale(1,1.14)" font-size="14" text-anchor="middle" font-weight="normal" fill="#000">0</text>
<line x1="194.30" y1="957.50" x2="194.30" y2="963.50" stroke="#222" stroke-width="1.3"/>
<text transform="translate(194.60,976.40) scale(1,1.14)" font-size="14" text-anchor="middle" font-weight="normal" fill="#000">10</text>
<line x1="277.40" y1="957.50" x2="277.40" y2="963.50" stroke="#222" stroke-width="1.3"/>
<text transform="translate(277.70,976.40) scale(1,1.14)" font-size="14" text-anchor="middle" font-weight="normal" fill="#000">20</text>
<line x1="360.50" y1="957.50" x2="360.50" y2="963.50" stroke="#222" stroke-width="1.3"/>
<text transform="translate(360.80,976.40) scale(1,1.14)" font-size="14" text-anchor="middle" font-weight="normal" fill="#000">30</text>
<path d="M119.90,690.00 L119.40,681.30 L119.40,675.10 L120.40,668.80 L121.30,652.00 L127.60,643.20 L143.50,630.90 L200.50,621.60 L364.60,620.30" fill="none" stroke="#000" stroke-width="2.1" stroke-linejoin="round"/>
<polygon points="119.90,685.40 123.50,690.00 119.90,694.60 116.30,690.00" fill="#fff" stroke="#000" stroke-width="1.3"/>
<polygon points="119.40,676.70 123.00,681.30 119.40,685.90 115.80,681.30" fill="#fff" stroke="#000" stroke-width="1.3"/>
<polygon points="119.40,670.50 123.00,675.10 119.40,679.70 115.80,675.10" fill="#fff" stroke="#000" stroke-width="1.3"/>
<polygon points="120.40,664.20 124.00,668.80 120.40,673.40 116.80,668.80" fill="#fff" stroke="#000" stroke-width="1.3"/>
<polygon points="121.30,647.40 124.90,652.00 121.30,656.60 117.70,652.00" fill="#fff" stroke="#000" stroke-width="1.3"/>
<polygon points="127.60,638.60 131.20,643.20 127.60,647.80 124.00,643.20" fill="#fff" stroke="#000" stroke-width="1.3"/>
<polygon points="143.50,626.30 147.10,630.90 143.50,635.50 139.90,630.90" fill="#fff" stroke="#000" stroke-width="1.3"/>
<polygon points="200.50,617.00 204.10,621.60 200.50,626.20 196.90,621.60" fill="#fff" stroke="#000" stroke-width="1.3"/>
<polygon points="364.60,615.70 368.20,620.30 364.60,624.90 361.00,620.30" fill="#fff" stroke="#000" stroke-width="1.3"/>
<path d="M119.90,628.00 L119.90,632.30 L119.90,636.60 L119.90,640.50 L120.20,643.80 L128.60,655.40 L144.90,669.80 L202.50,689.00 L366.90,690.90" fill="none" stroke="#000" stroke-width="2.1" stroke-linejoin="round"/>
<polygon points="119.90,622.90 124.30,628.00 119.90,633.10 115.50,628.00" fill="#000" stroke="#000" stroke-width="0.8"/>
<polygon points="119.90,627.20 124.30,632.30 119.90,637.40 115.50,632.30" fill="#000" stroke="#000" stroke-width="0.8"/>
<polygon points="119.90,631.50 124.30,636.60 119.90,641.70 115.50,636.60" fill="#000" stroke="#000" stroke-width="0.8"/>
<polygon points="119.90,635.40 124.30,640.50 119.90,645.60 115.50,640.50" fill="#000" stroke="#000" stroke-width="0.8"/>
<polygon points="120.20,638.70 124.60,643.80 120.20,648.90 115.80,643.80" fill="#000" stroke="#000" stroke-width="0.8"/>
<polygon points="128.60,650.30 133.00,655.40 128.60,660.50 124.20,655.40" fill="#000" stroke="#000" stroke-width="0.8"/>
<polygon points="144.90,664.70 149.30,669.80 144.90,674.90 140.50,669.80" fill="#000" stroke="#000" stroke-width="0.8"/>
<polygon points="202.50,683.90 206.90,689.00 202.50,694.10 198.10,689.00" fill="#000" stroke="#000" stroke-width="0.8"/>
<polygon points="366.90,685.80 371.30,690.90 366.90,696.00 362.50,690.90" fill="#000" stroke="#000" stroke-width="0.8"/>
<path d="M113.00,943.90 L115.50,915.10 L119.20,903.90 L137.30,871.90 L195.80,859.60 L361.40,857.10" fill="none" stroke="#000" stroke-width="2.1" stroke-linejoin="round"/>
<polygon points="113.00,939.30 116.60,943.90 113.00,948.50 109.40,943.90" fill="#fff" stroke="#000" stroke-width="1.3"/>
<polygon points="115.50,910.50 119.10,915.10 115.50,919.70 111.90,915.10" fill="#fff" stroke="#000" stroke-width="1.3"/>
<polygon points="119.20,899.30 122.80,903.90 119.20,908.50 115.60,903.90" fill="#fff" stroke="#000" stroke-width="1.3"/>
<polygon points="137.30,867.30 140.90,871.90 137.30,876.50 133.70,871.90" fill="#fff" stroke="#000" stroke-width="1.3"/>
<polygon points="195.80,855.00 199.40,859.60 195.80,864.20 192.20,859.60" fill="#fff" stroke="#000" stroke-width="1.3"/>
<polygon points="361.40,852.50 365.00,857.10 361.40,861.70 357.80,857.10" fill="#fff" stroke="#000" stroke-width="1.3"/>
<path d="M112.80,860.70 L112.80,868.70 L113.50,878.30 L113.50,889.50 L116.00,899.10 L121.90,908.10 L138.40,911.90 L196.70,916.90 L362.30,920.30" fill="none" stroke="#000" stroke-width="2.1" stroke-linejoin="round"/>
<polygon points="112.80,855.60 117.20,860.70 112.80,865.80 108.40,860.70" fill="#000" stroke="#000" stroke-width="0.8"/>
<polygon points="112.80,863.60 117.20,868.70 112.80,873.80 108.40,868.70" fill="#000" stroke="#000" stroke-width="0.8"/>
<polygon points="113.50,873.20 117.90,878.30 113.50,883.40 109.10,878.30" fill="#000" stroke="#000" stroke-width="0.8"/>
<polygon points="113.50,884.40 117.90,889.50 113.50,894.60 109.10,889.50" fill="#000" stroke="#000" stroke-width="0.8"/>
<polygon points="116.00,894.00 120.40,899.10 116.00,904.20 111.60,899.10" fill="#000" stroke="#000" stroke-width="0.8"/>
<polygon points="121.90,903.00 126.30,908.10 121.90,913.20 117.50,908.10" fill="#000" stroke="#000" stroke-width="0.8"/>
<polygon points="138.40,906.80 142.80,911.90 138.40,917.00 134.00,911.90" fill="#000" stroke="#000" stroke-width="0.8"/>
<polygon points="196.70,911.80 201.10,916.90 196.70,922.00 192.30,916.90" fill="#000" stroke="#000" stroke-width="0.8"/>
<polygon points="362.30,915.20 366.70,920.30 362.30,925.40 357.90,920.30" fill="#000" stroke="#000" stroke-width="0.8"/>
<text transform="translate(264.00,778.50) scale(1,1.03)" font-size="19" text-anchor="middle" font-weight="normal" fill="#000" stroke="#000" stroke-width="0.2">DCIR mAb (µg/ml)</text>
<text transform="translate(273.90,1021.00) scale(1,1.03)" font-size="19" text-anchor="middle" font-weight="normal" fill="#000" stroke="#000" stroke-width="0.2">BDCA-2 mAb (µg/ml)</text>
<text transform="translate(457.80,709.40) rotate(-90)" x="0" y="0" font-size="19" text-anchor="start" stroke="#000" stroke-width="0.2">DCIR (MFI<tspan font-size="13" dy="4.6">norm</tspan><tspan dy="-4.6">)</tspan></text>
<text transform="translate(63.00,862.50) rotate(-90)" x="0" y="0" font-size="19" text-anchor="start" stroke="#000" stroke-width="0.2">E2 (MFI<tspan font-size="13" dy="4.6">norm</tspan><tspan dy="-4.6">)</tspan></text>
<text transform="translate(457.90,964.00) rotate(-90)" x="0" y="0" font-size="19" text-anchor="start" stroke="#000" stroke-width="0.2">BDCA-2 (MFI<tspan font-size="13" dy="4.6">norm</tspan><tspan dy="-4.6">)</tspan></text>
<line x1="473.90" y1="647.60" x2="473.90" y2="686.40" stroke="#000" stroke-width="1.8"/>
<polygon points="473.90,661.10 478.60,665.90 473.90,670.70 469.20,665.90" fill="#fff" stroke="#000" stroke-width="1.3"/>
<line x1="473.70" y1="874.40" x2="473.70" y2="913.80" stroke="#000" stroke-width="1.8"/>
<polygon points="473.70,888.30 478.40,893.10 473.70,897.90 469.00,893.10" fill="#fff" stroke="#000" stroke-width="1.3"/>
<line x1="61.60" y1="698.80" x2="61.60" y2="738.00" stroke="#000" stroke-width="1.8"/>
<polygon points="61.70,711.80 66.60,716.70 61.70,721.60 56.80,716.70" fill="#000" stroke="#000" stroke-width="0.8"/>
</svg>
</body></html>
